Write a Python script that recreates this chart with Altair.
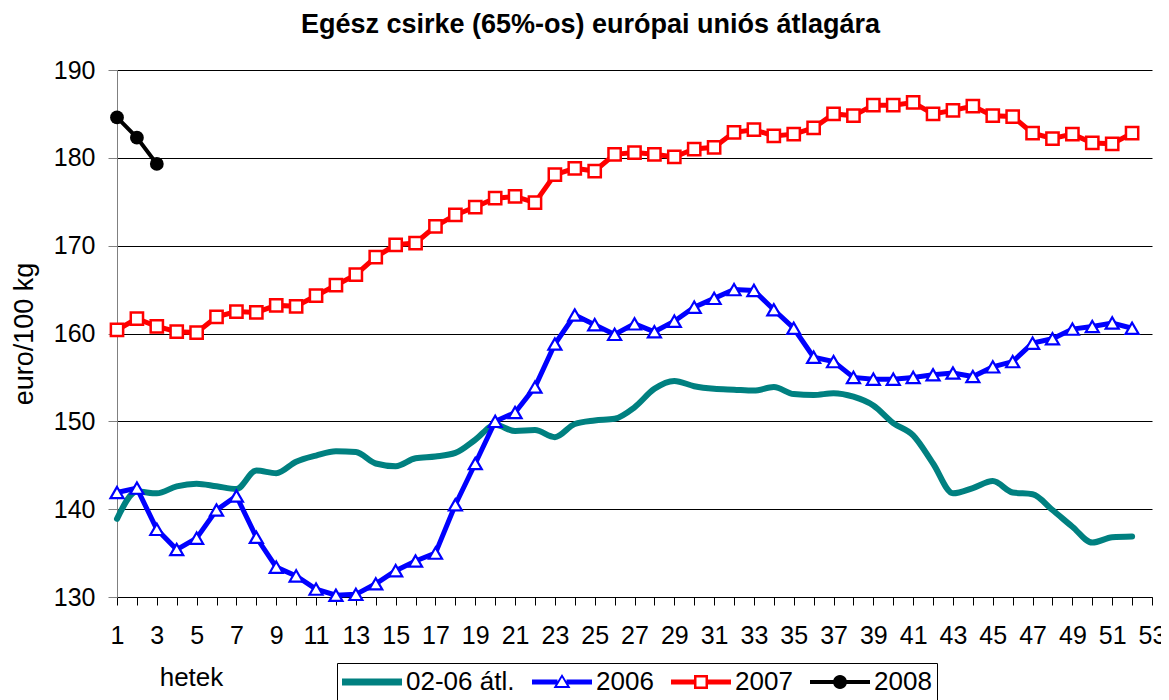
import math
import altair as alt
import pandas as pd

WEEKS = list(range(1, 53))

SERIES = ["02-06 átl.", "2006", "2007", "2008"]
COLORS = ["#008080", "#0000FF", "#FF0000", "#000000"]

AVG_02_06 = [138.9, 142.0, 141.8, 142.6, 142.9, 142.6, 142.3, 144.4, 144.1, 145.4,
             146.1, 146.6, 146.5, 145.2, 144.9, 145.8, 146.0, 146.4, 147.9, 149.6,
             148.9, 149.0, 148.2, 149.7, 150.1, 150.3, 151.6, 153.7, 154.6, 154.0,
             153.7, 153.6, 153.5, 153.9, 153.1, 153.0, 153.2, 152.8, 151.8, 149.8,
             148.4, 145.2, 141.8, 142.4, 143.2, 141.9, 141.7, 139.9, 138.0, 136.2,
             136.8, 136.9]

Y2006 = [141.9, 142.4, 137.7, 135.4, 136.7, 139.9, 141.5, 136.8, 133.4, 132.4,
         130.9, 130.2, 130.3, 131.5, 133.0, 134.1, 135.0, 140.5, 145.2, 150.0,
         151.0, 153.9, 158.8, 162.1, 161.0, 159.9, 161.1, 160.2, 161.4, 163.0,
         164.0, 165.0, 164.9, 162.7, 160.6, 157.3, 156.8, 155.0, 154.8, 154.8,
         155.0, 155.3, 155.5, 155.1, 156.2, 156.8, 158.9, 159.4, 160.5, 160.8,
         161.2, 160.6]

Y2007 = [160.4, 161.7, 160.8, 160.2, 160.1, 161.9, 162.5, 162.4, 163.2, 163.1,
         164.3, 165.5, 166.7, 168.7, 170.1, 170.3, 172.2, 173.5, 174.4, 175.4,
         175.6, 174.9, 178.1, 178.8, 178.5, 180.4, 180.6, 180.4, 180.1, 181.0,
         181.2, 182.9, 183.2, 182.5, 182.7, 183.4, 185.0, 184.8, 186.0, 186.0,
         186.3, 185.0, 185.4, 185.9, 184.8, 184.7, 182.8, 182.2, 182.7, 181.7,
         181.6, 182.8]

Y2008 = [184.6, 182.3, 179.3]

X_TICKS = list(range(1, 54))
Y_TICKS = [130, 140, 150, 160, 170, 180, 190]

rows = []
for name, vals in zip(SERIES, [AVG_02_06, Y2006, Y2007, Y2008]):
    for w, v in zip(WEEKS, vals):
        rows.append({"week": w, "value": v, "series": name})
df = pd.DataFrame(rows)

# ---- legend symbol paths (line + marker), unit = 30 px ----
U = 30.0


def _pt(x, y):
    return f"{x / U:.4f},{y / U:.4f}"


def _poly(pts):
    return "M" + "L".join(_pt(x, y) for x, y in pts) + "Z"


def _rect(x0, y0, x1, y1):
    return _poly([(x0, y0), (x1, y0), (x1, y1), (x0, y1)])


P_AVG = _rect(-30, -3.5, 30, 3.5)
P_2006 = (_rect(-30, -2.5, -4.5, 2.5) + _rect(4.5, -2.5, 30, 2.5)
          + _poly([(0, -8), (8.5, 6), (-8.5, 6)])
          + _poly([(0, -4.5), (-5, 4), (5, 4)]))
P_2007 = (_rect(-30, -2.5, -6, 2.5) + _rect(6, -2.5, 30, 2.5)
          + _poly([(-7, -7), (7, -7), (7, 7), (-7, 7)])
          + _poly([(-4.5, -4.5), (-4.5, 4.5), (4.5, 4.5), (4.5, -4.5)]))
P_2008 = (_rect(-30, -2, 30, 2)
          + _poly([(7 * math.cos(2 * math.pi * k / 24), 7 * math.sin(2 * math.pi * k / 24))
                   for k in range(24)]))
PATHS = [P_AVG, P_2006, P_2007, P_2008]

FONT = "Liberation Sans"

legend = alt.Legend(
    title=None,
    orient="none",
    legendX=220,
    legendY=593,
    direction="horizontal",
    columns=4,
    symbolSize=3600,
    clipHeight=28,
    labelFontSize=26,
    labelFont=FONT,
    labelColor="#000000",
    labelOffset=4,
    labelLimit=400,
    columnPadding=17,
    padding=5,
    strokeColor="#000000",
    fillColor="#ffffff",
    symbolStrokeWidth=0,
    symbolOpacity=1,
    symbolFillColor="#000000",
)

color_enc = alt.Color("series:N", scale=alt.Scale(domain=SERIES, range=COLORS), legend=legend)
shape_enc = alt.Shape("series:N", scale=alt.Scale(domain=SERIES, range=PATHS), legend=legend)

x_enc = alt.X(
    "week:Q",
    scale=alt.Scale(domain=[1, 53], nice=False, zero=False),
    axis=alt.Axis(
        values=X_TICKS,
        format="d",
        labelExpr="datum.value % 2 == 1 ? datum.label : ''",
        labelFontSize=25,
        labelFont=FONT,
        labelColor="#000000",
        labelPadding=18,
        labelFlush=False,
        labelOverlap=False,
        labelBound=False,
        tickSize=8,
        tickColor="#000000",
        domainColor="#000000",
        grid=False,
        title="hetek",
        titleFont=FONT,
        titleFontSize=26,
        titleFontWeight="normal",
        titleColor="#000000",
        titleX=74,
        titleY=88,
        titleAngle=0,
        titleAlign="center",
        titleBaseline="alphabetic",
    ),
)

y_enc = alt.Y(
    "value:Q",
    scale=alt.Scale(domain=[130, 190], nice=False, zero=False),
    axis=alt.Axis(
        values=Y_TICKS,
        format="d",
        labelFontSize=25,
        labelFont=FONT,
        labelColor="#000000",
        labelPadding=13,
        labelFlush=False,
        labelOverlap=False,
        tickSize=9,
        tickColor="#808080",
        domainColor="#808080",
        grid=True,
        gridColor="#000000",
        gridWidth=1,
        title="euro/100 kg",
        titleFont=FONT,
        titleFontSize=27,
        titleFontWeight="normal",
        titleColor="#000000",
        titleX=-93,
        titleY=263.5,
        titleAngle=270,
        titleAlign="center",
        titleBaseline="middle",
    ),
)

base = alt.Chart(df)

avg_line = base.transform_filter(alt.datum.series == SERIES[0]).mark_line(
    strokeWidth=6, interpolate="monotone", strokeCap="round"
).encode(x=x_enc, y=y_enc, color=color_enc)

line06 = base.transform_filter(alt.datum.series == "2006").mark_line(
    strokeWidth=5
).encode(x=x_enc, y=y_enc, color=color_enc)
pts06 = base.transform_filter(alt.datum.series == "2006").mark_point(
    shape="triangle-up", size=170, filled=True, fill="#ffffff", stroke="#0000FF",
    strokeWidth=2.2, opacity=1
).encode(x=x_enc, y=y_enc)

line07 = base.transform_filter(alt.datum.series == "2007").mark_line(
    strokeWidth=5
).encode(x=x_enc, y=y_enc, color=color_enc)
pts07 = base.transform_filter(alt.datum.series == "2007").mark_point(
    shape="square", size=150, filled=True, fill="#ffffff", stroke="#FF0000",
    strokeWidth=2.5, opacity=1
).encode(x=x_enc, y=y_enc)

line08 = base.transform_filter(alt.datum.series == "2008").mark_line(
    strokeWidth=4
).encode(x=x_enc, y=y_enc, color=color_enc)
pts08 = base.transform_filter(alt.datum.series == "2008").mark_point(
    shape="circle", size=190, filled=True, fill="#000000", stroke="#000000",
    strokeWidth=0, opacity=1
).encode(x=x_enc, y=y_enc)

# legend-only layer: no rows pass, legend entries come from the explicit scale domain
legend_layer = base.transform_filter("false").mark_point(
    filled=True, opacity=1, strokeWidth=0
).encode(x=x_enc, y=y_enc, color=color_enc, shape=shape_enc)

chart = alt.layer(
    avg_line, line06, pts06, line07, pts07, line08, pts08, legend_layer
).properties(
    width=1035,
    height=527,
    autosize=alt.AutoSizeParams(type="none"),
    padding={"left": 109, "top": 62, "right": 9, "bottom": 115},
    title=alt.TitleParams(
        text="Egész csirke (65%-os) európai uniós átlagára",
        font=FONT,
        fontSize=27,
        fontWeight="bold",
        color="#000000",
        anchor="middle",
        frame="group",
        dx=-44,
        dy=24,
        baseline="alphabetic",
        offset=22,
    ),
).configure(
    font=FONT,
    background="#ffffff",
).configure_view(
    stroke="transparent"
)

chart.save("out.html", embed_options={"renderer": "svg", "actions": False})
